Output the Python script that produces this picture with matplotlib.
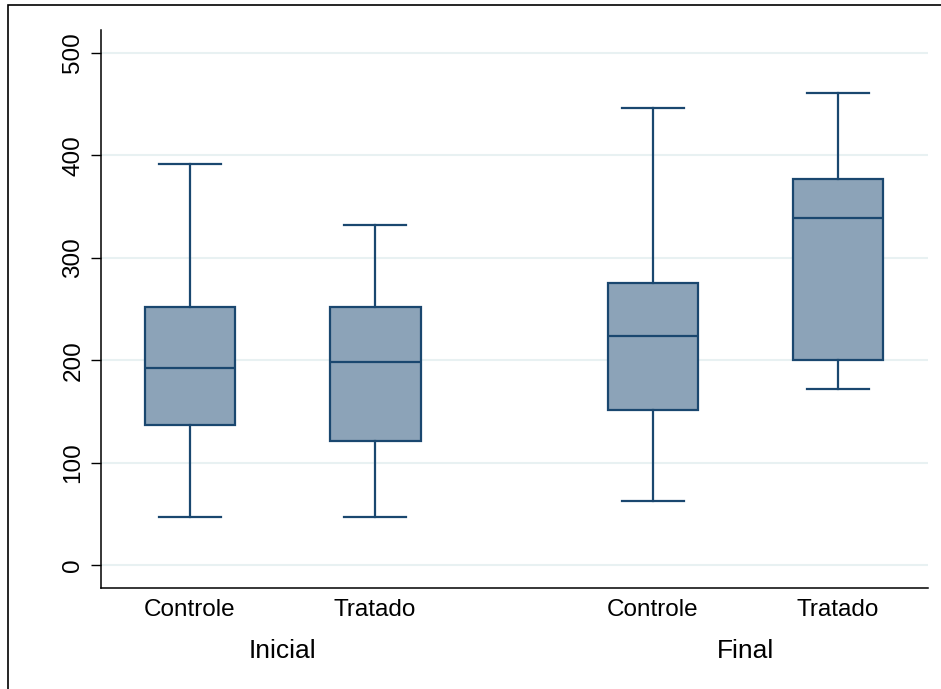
import matplotlib
matplotlib.use("Agg")
import matplotlib.pyplot as plt
from matplotlib.patches import Rectangle

plt.rcParams['font.family'] = ['Liberation Sans', 'DejaVu Sans']

groups = ["Inicial", "Final"]
categories = ["Controle", "Tratado", "Controle", "Tratado"]
whislo = [47, 47, 62, 172]
q1 = [137, 121, 151, 200]
med = [192, 198, 224, 339]
q3 = [252, 252, 275, 377]
whishi = [392, 332, 446, 461]
yticks = [0, 100, 200, 300, 400, 500]

positions = [1, 2, 3.5, 4.5]
navy = "#1a476f"
fill = "#8ca3b8"

W, H = 941, 689
fig = plt.figure(figsize=(W / 100, H / 100), dpi=100)
ax = fig.add_axes([101 / W, 1 - 588 / H, (928 - 101) / W, (588 - 30) / H])

stats = []
for i in range(4):
    stats.append(dict(whislo=whislo[i], q1=q1[i], med=med[i], q3=q3[i],
                      whishi=whishi[i], fliers=[], label=categories[i]))

ax.bxp(stats, positions=positions, widths=0.49, showfliers=False,
       patch_artist=True, manage_ticks=False,
       boxprops=dict(facecolor=fill, edgecolor=navy, linewidth=1.6),
       medianprops=dict(color=navy, linewidth=1.6),
       whiskerprops=dict(color=navy, linewidth=1.6),
       capprops=dict(color=navy, linewidth=1.6),
       capwidths=0.335)

ax.set_xlim(0.519, 4.986)
ax.set_ylim(-22.5, 522.5)
ax.set_yticks(yticks)
ax.set_yticklabels([str(v) for v in yticks], fontsize=17.5, rotation=90, va='center')
ax.tick_params(axis='y', length=7, width=1, pad=5, color='black')
ax.set_xticks(positions)
ax.set_xticklabels(categories, fontsize=17.5)
ax.tick_params(axis='x', length=0, pad=8)

ax.grid(axis='y', color='#e8f1f2', linewidth=1.5)
ax.set_axisbelow(True)
for s in ['top', 'right']:
    ax.spines[s].set_visible(False)
for s in ['left', 'bottom']:
    ax.spines[s].set_linewidth(1.1)

gcenters = [(positions[0] + positions[1]) / 2, (positions[2] + positions[3]) / 2]
for g, c in zip(groups, gcenters):
    ax.text(c, -0.113, g, transform=ax.get_xaxis_transform(), ha='center',
            va='center', fontsize=19)

fig.patches.append(Rectangle((8 / W, -0.1), 1.2, 1 - 5 / H + 0.1,
                             transform=fig.transFigure, fill=False,
                             edgecolor='black', linewidth=1.2))

fig.savefig("out.png", dpi=100)
